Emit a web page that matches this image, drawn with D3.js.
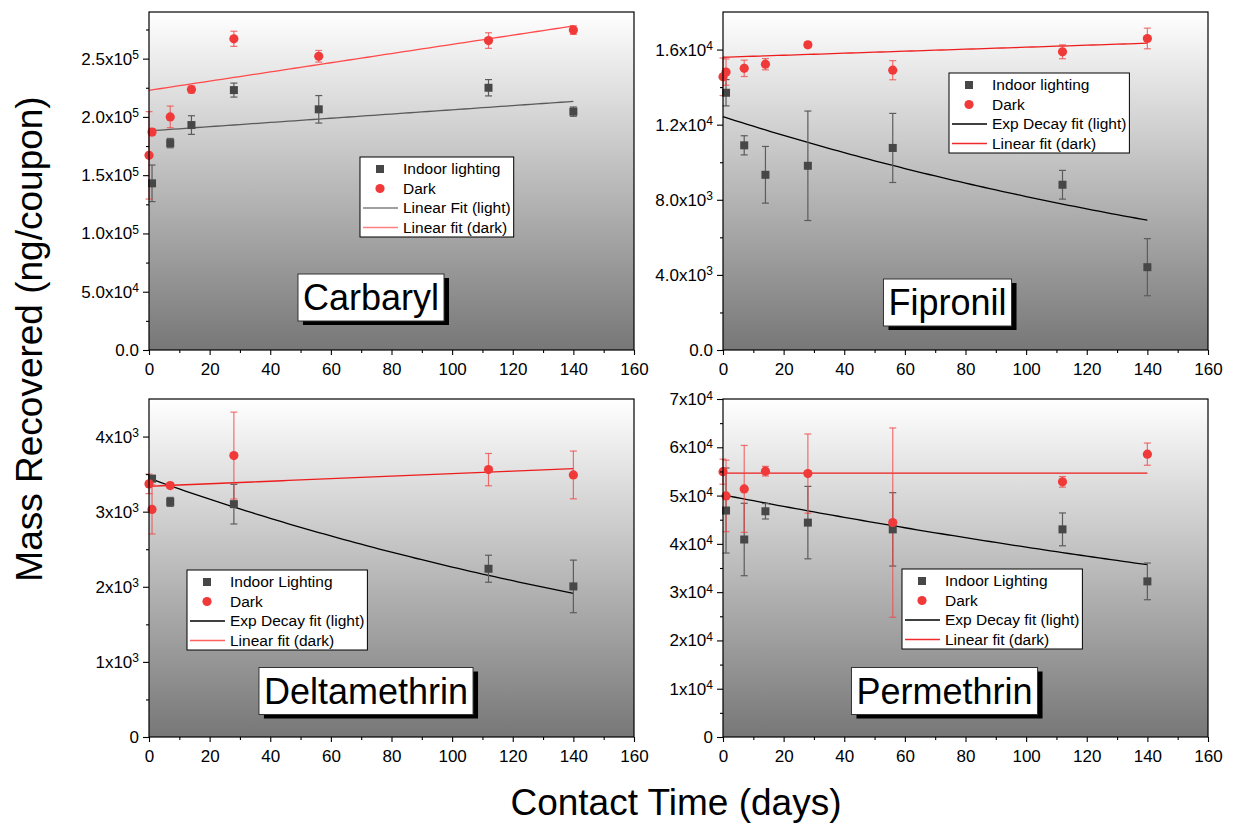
<!DOCTYPE html>
<html><head><meta charset="utf-8">
<script src="https://cdn.jsdelivr.net/npm/d3@7"></script>
<style>
body{margin:0;background:#fff;}
svg{font-family:"Liberation Sans",Arial,Helvetica,sans-serif;}
</style>
</head><body>
<svg id="chart" width="1237" height="830"></svg>
<script>
// ---------- DATA ----------
const xTicks = [0,20,40,60,80,100,120,140,160];
const xMinorTicks = [10,30,50,70,90,110,130,150];

// Carbaryl
const carbarylLightDays = [1,7,14,28,56,112,140];
const carbarylLight     = [143000,177500,193000,223000,206500,225000,204500];
const carbarylLightErr  = [15700,4000,8000,6000,11800,7000,4000];
const carbarylDarkDays  = [0,1,7,14,28,56,112,140];
const carbarylDark      = [167000,187000,200000,223500,267000,252000,265500,274500];
const carbarylDarkErr   = [37500,3000,9300,3000,6500,5000,6700,3700];
const carbarylLightFit  = [188000,180.7];   // linear: intercept, slope
const carbarylDarkFit   = [222800,394.3];   // linear: intercept, slope
const carbarylYTicks    = [0,50000,100000,150000,200000,250000];
const carbarylYLabels   = [["0.0",""],["5.0x10","4"],["1.0x10","5"],["1.5x10","5"],["2.0x10","5"],["2.5x10","5"]];
const carbarylYMinor    = [25000,75000,125000,175000,225000,275000];
const carbarylLegend    = ["Indoor lighting","Dark","Linear Fit (light)","Linear fit (dark)"];

// Fipronil
const fipronilLightDays = [1,7,14,28,56,112,140];
const fipronilLight     = [13700,10900,9330,9810,10760,8800,4410];
const fipronilLightErr  = [700,510,1510,2915,1840,765,1520];
const fipronilDarkDays  = [0,1,7,14,28,56,112,140];
const fipronilDark      = [14550,14800,15000,15220,16250,14900,15880,16590];
const fipronilDarkErr   = [1000,700,435,300,150,510,370,550];
const fipronilLightFit  = [12427,0.00419];  // exp decay: A, k
const fipronilDarkFit   = [15591,5.34];     // linear
const fipronilYTicks    = [0,4000,8000,12000,16000];
const fipronilYLabels   = [["0.0",""],["4.0x10","3"],["8.0x10","3"],["1.2x10","4"],["1.6x10","4"]];
const fipronilYMinor    = [2000,6000,10000,14000];
const fipronilLegend    = ["Indoor lighting","Dark","Exp Decay fit (light)","Linear fit (dark)"];

// Deltamethrin
const deltaLightDays = [1,7,28,112,140];
const deltaLight     = [3440,3130,3100,2240,2005];
const deltaLightErr  = [40,60,264,180,350];
const deltaDarkDays  = [0,1,7,28,112,140];
const deltaDark      = [3370,3030,3347,3747,3560,3489];
const deltaDarkErr   = [130,327,30,578,215,318];
const deltaLightFit  = [3444,0.0042];   // exp decay
const deltaDarkFit   = [3338,1.68];     // linear
const deltaYTicks    = [0,1000,2000,3000,4000];
const deltaYLabels   = [["0",""],["1x10","3"],["2x10","3"],["3x10","3"],["4x10","3"]];
const deltaYMinor    = [500,1500,2500,3500];
const deltaLegend    = ["Indoor Lighting","Dark","Exp Decay fit (light)","Linear fit (dark)"];

// Permethrin
const permLightDays = [1,7,14,28,56,112,140];
const permLight     = [46900,40900,46750,44400,43000,43000,32230];
const permLightErr  = [8800,7500,1600,7500,7600,3400,3800];
const permDarkDays  = [0,1,7,14,28,56,112,140];
const permDark      = [54940,49930,51380,55050,54560,44400,52840,58580];
const permDarkErr   = [2600,7400,9000,1000,8200,19600,1100,2300];
const permLightFit  = [50138,0.00243];  // exp decay
const permDarkFit   = [54634,0];        // linear
const permYTicks    = [0,10000,20000,30000,40000,50000,60000,70000];
const permYLabels   = [["0",""],["1x10","4"],["2x10","4"],["3x10","4"],["4x10","4"],["5x10","4"],["6x10","4"],["7x10","4"]];
const permYMinor    = [5000,15000,25000,35000,45000,55000,65000];
const permLegend    = ["Indoor Lighting","Dark","Exp Decay fit (light)","Linear fit (dark)"];

const compounds = ["Carbaryl","Fipronil","Deltamethrin","Permethrin"];

// ---------- LAYOUT ----------
const panels = [
  {name:compounds[0], box:[149,634,12,350], ymax:290000,
   lx:carbarylLightDays, ly:carbarylLight, le:carbarylLightErr,
   dx:carbarylDarkDays, dy:carbarylDark, de:carbarylDarkErr,
   lfit:{type:"lin",p:carbarylLightFit}, dfit:{type:"lin",p:carbarylDarkFit},
   yt:carbarylYTicks, yl:carbarylYLabels, ym:carbarylYMinor, legend:carbarylLegend,
   legPos:[360,157], titlePos:[371,297.5],
   lfitColor:"#5a5a5a", dfitColor:"#ff4a4a", legLColor:"#808080", legDColor:"#ff8080"},
  {name:compounds[1], box:[723,1208,12,350], ymax:18000,
   lx:fipronilLightDays, ly:fipronilLight, le:fipronilLightErr,
   dx:fipronilDarkDays, dy:fipronilDark, de:fipronilDarkErr,
   lfit:{type:"exp",p:fipronilLightFit}, dfit:{type:"lin",p:fipronilDarkFit},
   yt:fipronilYTicks, yl:fipronilYLabels, ym:fipronilYMinor, legend:fipronilLegend,
   legPos:[949,73], titlePos:[947.5,302.5],
   lfitColor:"#000", dfitColor:"#ee1c1c", legLColor:"#000", legDColor:"#ee2a2a"},
  {name:compounds[2], box:[149,634,399,737], ymax:4500,
   lx:deltaLightDays, ly:deltaLight, le:deltaLightErr,
   dx:deltaDarkDays, dy:deltaDark, de:deltaDarkErr,
   lfit:{type:"exp",p:deltaLightFit}, dfit:{type:"lin",p:deltaDarkFit},
   yt:deltaYTicks, yl:deltaYLabels, ym:deltaYMinor, legend:deltaLegend,
   legPos:[187,570], titlePos:[366,691],
   lfitColor:"#000", dfitColor:"#ee1c1c", legLColor:"#000", legDColor:"#ff6060"},
  {name:compounds[3], box:[723,1208,399,737], ymax:70000,
   lx:permLightDays, ly:permLight, le:permLightErr,
   dx:permDarkDays, dy:permDark, de:permDarkErr,
   lfit:{type:"exp",p:permLightFit}, dfit:{type:"lin",p:permDarkFit},
   yt:permYTicks, yl:permYLabels, ym:permYMinor, legend:permLegend,
   legPos:[902,569], titlePos:[944.5,691],
   lfitColor:"#000", dfitColor:"#ee1c1c", legLColor:"#000", legDColor:"#ee2a2a"}
];

const svg = d3.select("#chart");
const defs = svg.append("defs");
const grad = defs.append("linearGradient").attr("id","bg").attr("x1",0).attr("y1",0).attr("x2",0).attr("y2",1);
grad.append("stop").attr("offset","0%").attr("stop-color","#ffffff");
grad.append("stop").attr("offset","100%").attr("stop-color","#777777");

const SQ = "#474747", RED = "#f03a3a";

panels.forEach(p => {
  const [x0,x1,y0,y1] = p.box;
  const x = d3.scaleLinear().domain([0,160]).range([x0,x1]);
  const y = d3.scaleLinear().domain([0,p.ymax]).range([y1,y0]);
  const g = svg.append("g");

  g.append("rect").attr("x",x0).attr("y",y0).attr("width",x1-x0).attr("height",y1-y0)
    .attr("fill","url(#bg)");

  // fit lines
  const fitFn = f => f.type==="lin" ? (t => f.p[0] + f.p[1]*t) : (t => f.p[0]*Math.exp(-f.p[1]*t));
  const ts = d3.range(0,141,2);
  const line = d3.line().x(d=>x(d[0])).y(d=>y(d[1]));
  const lf = fitFn(p.lfit), df = fitFn(p.dfit);
  g.append("path").attr("d",line(ts.map(t=>[t,lf(t)]))).attr("fill","none")
    .attr("stroke",p.lfitColor).attr("stroke-width",1.3);
  g.append("path").attr("d",line(ts.map(t=>[t,df(t)]))).attr("fill","none")
    .attr("stroke",p.dfitColor).attr("stroke-width",1.3);

  // error bars
  const err = (xs,vs,es,color,cls) => {
    const eg = g.append("g").attr("stroke",color).attr("stroke-width",1.2).attr("class",cls);
    xs.forEach((t,i)=>{
      const cx = x(t), ya = y(vs[i]-es[i]), yb = y(vs[i]+es[i]);
      eg.append("line").attr("x1",cx).attr("x2",cx).attr("y1",ya).attr("y2",yb);
      eg.append("line").attr("x1",cx-3.5).attr("x2",cx+3.5).attr("y1",ya).attr("y2",ya);
      eg.append("line").attr("x1",cx-3.5).attr("x2",cx+3.5).attr("y1",yb).attr("y2",yb);
    });
  };
  err(p.lx,p.ly,p.le,"#5c5c5c","errL");
  err(p.dx,p.dy,p.de,"rgba(240,70,70,0.75)","errD");

  // markers
  g.append("g").selectAll("rect").data(p.lx.map((t,i)=>[t,p.ly[i]])).join("rect")
    .attr("x",d=>x(d[0])-4).attr("y",d=>y(d[1])-4).attr("width",8).attr("height",8).attr("fill",SQ);
  g.append("g").selectAll("circle").data(p.dx.map((t,i)=>[t,p.dy[i]])).join("circle")
    .attr("cx",d=>x(d[0])).attr("cy",d=>y(d[1])).attr("r",4.6).attr("fill",RED);

  // frame
  g.append("rect").attr("x",x0).attr("y",y0).attr("width",x1-x0).attr("height",y1-y0)
    .attr("fill","none").attr("stroke","#000").attr("stroke-width",1.2);

  // x axis
  const xa = g.append("g").attr("transform",`translate(0,${y1})`)
    .call(d3.axisBottom(x).tickValues(xTicks).tickSize(5).tickPadding(8).tickFormat(d3.format("d")));
  const xm = g.append("g").attr("transform",`translate(0,${y1})`)
    .call(d3.axisBottom(x).tickValues(xMinorTicks).tickSize(3).tickFormat(""));
  // y axis
  const ya = g.append("g").attr("transform",`translate(${x0},0)`)
    .call(d3.axisLeft(y).tickValues(p.yt).tickSize(6).tickPadding(4).tickFormat(""));
  const ymn = g.append("g").attr("transform",`translate(${x0},0)`)
    .call(d3.axisLeft(y).tickValues(p.ym).tickSize(3).tickFormat(""));
  [xa,xm,ya,ymn].forEach(a=>{
    a.select(".domain").remove();
    a.selectAll(".tick line").attr("stroke","#000").attr("stroke-width",1.1);
  });
  xa.selectAll("text").attr("font-size",17).attr("fill","#000").attr("font-family","Liberation Sans, Arial, sans-serif");
  ya.selectAll(".tick text").each(function(d,i){
    const t = d3.select(this).attr("font-size",17).attr("fill","#000")
      .attr("font-family","Liberation Sans, Arial, sans-serif");
    const lab = p.yl[i];
    t.append("tspan").text(lab[0]);
    if (lab[1]) t.append("tspan").attr("font-size",12).attr("dy","-0.45em").text(lab[1]);
  });

  // legend
  const [lx0,ly0] = p.legPos;
  const lg = g.append("g").attr("transform",`translate(${lx0},${ly0})`);
  const box = lg.append("rect").attr("fill","#fff").attr("stroke","#000").attr("stroke-width",1);
  const rowY = [12,31.5,51,70.5];
  lg.append("rect").attr("x",20-4).attr("y",rowY[0]-4).attr("width",8).attr("height",8).attr("fill",SQ);
  lg.append("circle").attr("cx",20).attr("cy",rowY[1]).attr("r",4.6).attr("fill",RED);
  lg.append("line").attr("x1",3).attr("x2",38).attr("y1",rowY[2]).attr("y2",rowY[2]).attr("stroke",p.legLColor).attr("stroke-width",1.3);
  lg.append("line").attr("x1",3).attr("x2",38).attr("y1",rowY[3]).attr("y2",rowY[3]).attr("stroke",p.legDColor).attr("stroke-width",1.6);
  let maxW = 0;
  p.legend.forEach((s,i)=>{
    const tt = lg.append("text").attr("x",43).attr("y",rowY[i]).attr("dy","0.35em")
      .attr("font-size",15.5).attr("fill","#000").text(s);
    maxW = Math.max(maxW, tt.node().getComputedTextLength());
  });
  box.attr("x",0).attr("y",0).attr("width",43+maxW+3).attr("height",80);

  // title box
  const [tcx,tcy] = p.titlePos;
  const tg = g.append("g");
  const shadow = tg.append("rect").attr("fill","#000");
  const tbox = tg.append("rect").attr("fill","#fff").attr("stroke","#333").attr("stroke-width",1);
  const tt = tg.append("text").attr("x",tcx).attr("y",tcy).attr("dy","0.35em")
    .attr("text-anchor","middle").attr("font-size",36).attr("fill","#000").text(p.name);
  const w = tt.node().getComputedTextLength() + 10, h = 47;
  tbox.attr("x",tcx-w/2).attr("y",tcy-h/2).attr("width",w).attr("height",h);
  shadow.attr("x",tcx-w/2+5).attr("y",tcy-h/2+4).attr("width",w).attr("height",h);
});

// axis titles
svg.append("text").attr("transform","translate(42,339) rotate(-90)").attr("text-anchor","middle")
  .attr("font-size",37).attr("fill","#000").text("Mass Recovered (ng/coupon)");
svg.append("text").attr("x",676).attr("y",815).attr("text-anchor","middle")
  .attr("font-size",37).attr("fill","#000").text("Contact Time (days)");
</script>
</body></html>
